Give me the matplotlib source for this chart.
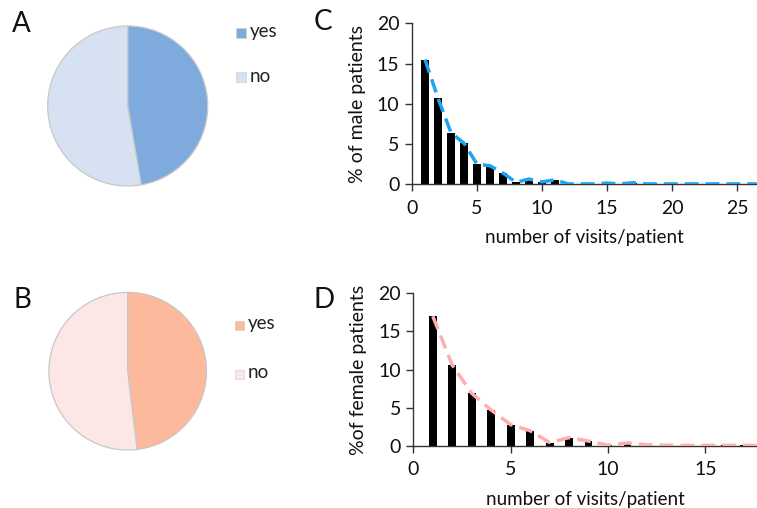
import matplotlib
matplotlib.use("Agg")
import matplotlib.pyplot as plt
from matplotlib.patches import Rectangle

plt.rcParams['font.family'] = ['Lato', 'DejaVu Sans']

# ---- data ----
pie_labels = ["yes", "no"]
male_pie = [47.3, 52.7]
female_pie = [48.1, 51.9]
male_colors = ["#7FAADE", "#D6E2F2"]
female_colors = ["#FDB99B", "#FDE6E6"]

male_visits = list(range(1, 28))
male_pct = [15.5, 10.7, 6.4, 5.1, 2.5, 2.3, 1.4, 0.25, 0.65, 0.3, 0.55, 0.05,
            0.05, 0.05, 0.15, 0.05, 0.2, 0.05, 0.05, 0.05, 0.05, 0.05, 0.05,
            0.05, 0.05, 0.05, 0.05]
female_visits = list(range(1, 19))
female_pct = [17.0, 10.6, 6.9, 4.7, 2.8, 2.0, 0.45, 1.1, 0.65, 0.1, 0.4, 0.15,
              0.1, 0.08, 0.08, 0.08, 0.08, 0.08]

xlabel = "number of visits/patient"
male_ylabel = "% of male patients"
female_ylabel = "%of female patients"
yticks = [0, 5, 10, 15, 20]

W, H = 757, 508
fig = plt.figure(figsize=(W / 100, H / 100), dpi=100)


def px_axes(left, top, right, bottom):
    return fig.add_axes([left / W, 1 - bottom / H, (right - left) / W, (bottom - top) / H])


def pie_panel(cx, cy, r, vals, cols, legend_x, legend_ys, sq, letter, letter_xy):
    ax = px_axes(cx - r, cy - r, cx + r, cy + r)
    ax.pie(vals, colors=cols, startangle=90, counterclock=False, radius=1,
           wedgeprops=dict(edgecolor="#C8C8C8", linewidth=0.9))
    ax.set_xlim(-1.02, 1.02)
    ax.set_ylim(-1.02, 1.02)
    ax.set_aspect("auto")
    ax.axis("off")
    for lab, col, ly in zip(pie_labels, cols, legend_ys):
        fig.patches.append(Rectangle((legend_x / W, 1 - (ly + sq / 2) / H), sq / W, sq / H,
                                     transform=fig.transFigure, facecolor=col,
                                     edgecolor="#D0D0D0", linewidth=0.5))
        fig.text((legend_x + sq + 4) / W, 1 - (ly - 1) / H, lab, fontsize=13.5,
                 va="center", ha="left", color="#222222")
    fig.text(letter_xy[0] / W, 1 - letter_xy[1] / H, letter, fontsize=20,
             ha="left", va="center", color="#111111")


def bar_panel(left, top, right, bottom, xmax, xs, ys, width, lcolor, ylab,
              xticks, letter, letter_xy):
    ax = px_axes(left, top, right, bottom)
    ax.bar(xs, ys, width=width, color="black", zorder=2)
    ax.plot(xs, ys, linestyle=(0, (4, 2)), color=lcolor, lw=2.5, zorder=3,
            clip_on=True)
    ax.set_xlim(0, xmax)
    ax.set_ylim(0, 20)
    ax.set_yticks(yticks)
    ax.set_xticks(xticks)
    for s in ["top", "right"]:
        ax.spines[s].set_visible(False)
    for s in ["left", "bottom"]:
        ax.spines[s].set_linewidth(1.0)
        ax.spines[s].set_color("#333333")
    ax.tick_params(direction="out", length=5, width=1.0, color="#333333",
                   labelsize=14, pad=4, labelcolor="#111111")
    ax.tick_params(axis="x", pad=6)
    ax.set_xlabel(xlabel, fontsize=13.5, labelpad=9, color="#111111")
    ax.set_ylabel(ylab, fontsize=14, labelpad=8, color="#111111")
    fig.text(letter_xy[0] / W, 1 - letter_xy[1] / H, letter, fontsize=20,
             ha="left", va="center", color="#111111")
    return ax


pie_panel(127.7, 106.0, 81.6, male_pie, male_colors, 236, [33, 77], 10, "A", (12, 24))
pie_panel(127.7, 371.2, 80.4, female_pie, female_colors, 235, [325, 374], 9, "B", (13, 300))

bar_panel(412, 23.3, 757, 184.3, 26.54, male_visits, male_pct, 0.6, "#1EA4F2",
          male_ylabel, [0, 5, 10, 15, 20, 25], "C", (314, 22))
bar_panel(413.3, 293.3, 757, 446, 17.65, female_visits, female_pct, 0.4, "#FFAEAE",
          female_ylabel, [0, 5, 10, 15], "D", (313, 300))

fig.savefig("out.png", dpi=100)
